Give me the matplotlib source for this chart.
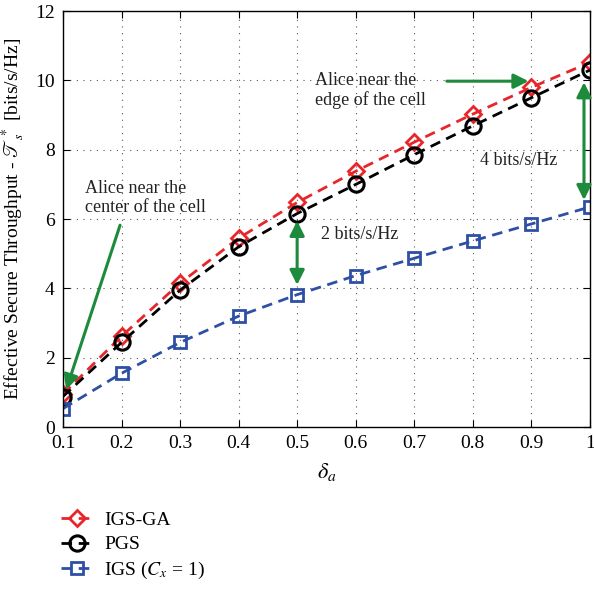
import matplotlib
matplotlib.use("Agg")
import matplotlib.pyplot as plt

plt.rcParams['font.family'] = ['Liberation Serif', 'DejaVu Serif']
plt.rcParams['mathtext.fontset'] = 'stix'

delta = [0.1, 0.2, 0.3, 0.4, 0.5, 0.6, 0.7, 0.8, 0.9, 1.0]
igs_ga = [0.95, 2.62, 4.15, 5.45, 6.48, 7.38, 8.22, 9.03, 9.8, 10.52]
pgs = [0.88, 2.44, 3.95, 5.2, 6.16, 7.0, 7.86, 8.69, 9.5, 10.3]
igs = [0.53, 1.55, 2.44, 3.2, 3.82, 4.37, 4.87, 5.37, 5.86, 6.35]

labels = ['IGS-GA', 'PGS', r'IGS ($C_x$ = 1)']
xticks = [0.1, 0.2, 0.3, 0.4, 0.5, 0.6, 0.7, 0.8, 0.9, 1.0]
xticklabels = ['0.1', '0.2', '0.3', '0.4', '0.5', '0.6', '0.7', '0.8', '0.9', '1']
yticks = [0, 2, 4, 6, 8, 10, 12]

fig = plt.figure(figsize=(5.94, 5.89), dpi=100)
ax = fig.add_axes([0.106, 0.275, 0.887, 0.706])

red = '#e8262a'
blue = '#2e4fa3'
green = '#1e8a3c'

l1, = ax.plot(delta, igs_ga, '--', color=red, lw=2.0, dashes=(3.8, 2.4), marker='D', ms=8,
              mfc='none', mec=red, mew=2.0, label=labels[0])
l2, = ax.plot(delta, pgs, '--', color='black', lw=2.0, dashes=(3.8, 2.4), marker='o', ms=11,
              mfc='none', mec='black', mew=2.2, label=labels[1])
l3, = ax.plot(delta, igs, '--', color=blue, lw=2.0, dashes=(3.8, 2.4), marker='s', ms=8,
              mfc='none', mec=blue, mew=2.0, label=labels[2])

ax.set_xlim(0.1, 1.0)
ax.set_ylim(0, 12)
ax.set_xticks(xticks)
ax.set_xticklabels(xticklabels)
ax.set_yticks(yticks)
ax.tick_params(direction='in', top=True, right=True, labelsize=14, length=5, pad=6)
ax.grid(True, linestyle=(0, (1, 5)), color='#555555', lw=0.8)
for s in ax.spines.values():
    s.set_linewidth(1.0)

ax.set_xlabel(r'$\delta_a$', fontsize=16, labelpad=6)
ax.set_ylabel(r'Effective Secure Throughput - $\mathscr{T}_s^*$ [bits/s/Hz]', fontsize=14, labelpad=6)

arrowkw = dict(arrowstyle='-|>', color=green, lw=2.2, mutation_scale=22)
ax.annotate('', xy=(0.104, 1.0), xytext=(0.199, 5.9), arrowprops=arrowkw)
ax.text(0.137, 6.6, 'Alice near the\ncenter of the cell', fontsize=13, ha='left', va='center',
        color='#222222', linespacing=1.15)

ax.annotate('', xy=(0.9, 9.98), xytext=(0.751, 9.98), arrowprops=arrowkw)
ax.text(0.531, 9.7, 'Alice near the\nedge of the cell', fontsize=13, ha='left', va='center',
        color='#222222', linespacing=1.15)

darrow = dict(arrowstyle='<|-|>', color=green, lw=2.2, mutation_scale=22, shrinkA=0, shrinkB=0)
ax.annotate('', xy=(0.5, 4.1), xytext=(0.5, 5.95), arrowprops=darrow)
ax.text(0.541, 5.55, '2 bits/s/Hz', fontsize=13, ha='left', va='center', color='#222222')

ax.annotate('', xy=(0.99, 6.55), xytext=(0.99, 9.95), arrowprops=darrow)
ax.text(0.878, 7.7, '4 bits/s/Hz', fontsize=13, ha='center', va='center', color='#222222')

fig.legend(handles=[l1, l2, l3], loc='upper left', bbox_to_anchor=(0.09, 0.145),
           frameon=False, fontsize=14, handlelength=1.6, handletextpad=0.6,
           labelspacing=0.35, borderaxespad=0)

fig.savefig('out.png', dpi=100)
